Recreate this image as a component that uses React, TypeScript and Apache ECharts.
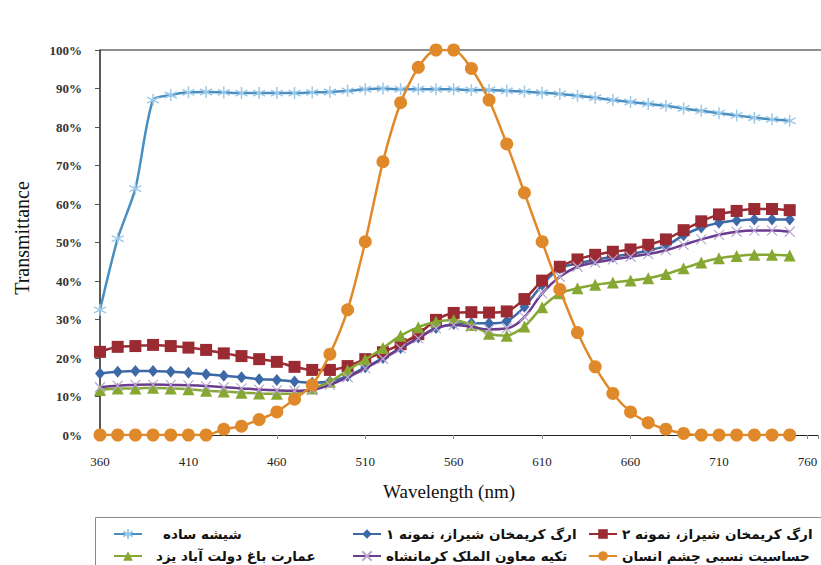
import React, { useEffect, useRef } from 'react';
import * as echarts from 'echarts';

const wavelengths = [360, 370, 380, 390, 400, 410, 420, 430, 440, 450, 460, 470, 480, 490, 500, 510, 520, 530, 540, 550, 560, 570, 580, 590, 600, 610, 620, 630, 640, 650, 660, 670, 680, 690, 700, 710, 720, 730, 740, 750];

const clearGlass = [32.5, 51, 64, 87, 88.3, 89, 89.1, 89, 88.8, 88.8, 88.8, 88.8, 89, 89.1, 89.4, 89.8, 90, 89.8, 89.8, 89.8, 89.8, 89.6, 89.6, 89.4, 89.2, 88.9, 88.6, 88.1, 87.6, 87, 86.5, 86, 85.5, 84.8, 84.2, 83.6, 83, 82.4, 82, 81.6];
const shirazSample1 = [16, 16.4, 16.6, 16.6, 16.4, 16.2, 15.8, 15.4, 15, 14.5, 14.3, 13.9, 13.6, 13.9, 15.3, 17.6, 20, 22.6, 25.3, 27.8, 28.8, 29, 29, 29.6, 33.3, 39, 43.3, 44.6, 45.5, 46.3, 47, 47.9, 49.1, 51.9, 53.9, 55.1, 55.7, 56, 56, 56];
const shirazSample2 = [21.6, 22.9, 23.1, 23.4, 23.1, 22.7, 22.1, 21.2, 20.5, 19.7, 19, 17.7, 16.9, 16.9, 17.9, 19.7, 21.5, 23.6, 26.2, 29.9, 31.7, 31.9, 31.8, 32.1, 35.3, 40.1, 43.7, 45.6, 46.8, 47.6, 48.2, 49.4, 50.8, 53.2, 55.5, 57.3, 58.2, 58.7, 58.7, 58.4];
const yazdGarden = [11.7, 12.1, 12.1, 12.3, 12.1, 11.9, 11.5, 11.3, 11, 10.8, 10.7, 10.8, 12.1, 13.8, 16.8, 19.6, 22.6, 25.8, 28, 29.4, 29.9, 28.6, 26.3, 25.8, 28.2, 33.2, 36.8, 38.1, 39, 39.6, 40.1, 40.7, 41.8, 43.3, 44.8, 45.9, 46.5, 46.8, 46.8, 46.6];
const kermanshahTekyeh = [12.4, 12.8, 13, 13.1, 13, 12.9, 12.7, 12.4, 12.1, 11.8, 11.6, 11.5, 11.7, 13, 15, 17.3, 19.8, 22.5, 25.1, 27.7, 28.6, 28.1, 27.4, 27.7, 30.7, 36.8, 41.1, 43.7, 44.8, 45.6, 46.3, 47, 48, 49.4, 50.8, 52, 52.8, 53.1, 53.1, 52.8];
const eyeSensitivity = [0, 0, 0, 0, 0, 0, 0, 1.5, 2.3, 4, 6, 9.3, 13, 21, 32.5, 50.2, 71, 86.3, 95.5, 100, 100, 95.2, 87, 75.6, 62.9, 50.2, 37.8, 26.6, 17.7, 10.8, 6, 3.2, 1.5, 0.4, 0, 0, 0, 0, 0, 0];

const seriesNames = [
  'شیشه ساده',
  'ارگ کریمخان شیراز، نمونه ۱',
  'ارگ کریمخان شیراز، نمونه ۲',
  'عمارت باغ دولت آباد یزد',
  'تکیه معاون الملک کرمانشاه',
  'حساسیت نسبی چشم انسان',
];

const yTicks = [0, 10, 20, 30, 40, 50, 60, 70, 80, 90, 100];

const ASTERISK = 'path://M0,-10L0,10M-8.66,-5L8.66,5M-8.66,5L8.66,-5';
const CROSS = 'path://M-10,-10L10,10M-10,10L10,-10';

const SERIF = 'Liberation Serif';
const SANS = 'DejaVu Sans';

export default function App() {
  const ref = useRef<HTMLDivElement>(null);

  useEffect(() => {
    if (!ref.current) return;
    const chart = echarts.init(ref.current, null, { renderer: 'svg' });

    const toData = (vals: number[]) => wavelengths.map((w, i) => [w, vals[i]]);

    const legendText = {
      fontFamily: SANS,
      fontWeight: 'bold' as const,
      fontSize: 13.5,
      color: '#111',
    };

    const mkLegend = (name: string, left: number, top: number, pad: number) => ({
      data: [name],
      left,
      top,
      padding: 0,
      itemWidth: 28,
      itemHeight: 12,
      selectedMode: false,
      textStyle: { ...legendText, padding: [0, 0, 0, pad] },
    });

    const option: any = {
      animation: false,
      backgroundColor: '#fff',
      grid: { left: 100, top: 50, right: 1, bottom: 130 },
      xAxis: {
        type: 'value',
        min: 360,
        max: 766,
        interval: 50,
        axisLine: { show: true, lineStyle: { color: '#222', width: 1.2 } },
        axisTick: { show: true, length: 4, lineStyle: { color: '#888' } },
        splitLine: { show: false },
        axisLabel: {
          margin: 20,
          fontFamily: SERIF,
          fontSize: 13,
          color: '#222',
          formatter: (v: number) => ((v - 360) % 50 === 0 ? String(v) : ''),
        },
      },
      yAxis: {
        type: 'value',
        min: yTicks[0],
        max: yTicks[yTicks.length - 1],
        interval: 10,
        axisLine: { show: true, lineStyle: { color: '#222', width: 1.5 } },
        axisTick: { show: true, length: 5, lineStyle: { color: '#555' } },
        splitLine: { show: false },
        axisLabel: {
          margin: 18,
          fontFamily: SERIF,
          fontWeight: 'bold',
          fontSize: 13,
          color: '#333',
          formatter: '{value}%',
        },
      },
      legend: [
        mkLegend(seriesNames[0], 113, 527, 16),
        mkLegend(seriesNames[1], 352, 527, 0),
        mkLegend(seriesNames[2], 588, 527, 0),
        mkLegend(seriesNames[3], 113, 549, 9),
        mkLegend(seriesNames[4], 352, 549, 0),
        mkLegend(seriesNames[5], 588, 549, 0),
      ],
      graphic: [
        {
          type: 'line',
          shape: { x1: 100, y1: 50, x2: 821, y2: 50 },
          style: { stroke: '#222', lineWidth: 1.2 },
          silent: true,
        },
        {
          type: 'rect',
          shape: { x: 95.5, y: 517.5, width: 740, height: 60 },
          style: { fill: 'none', stroke: '#8a8a8a', lineWidth: 1 },
          silent: true,
        },
        {
          type: 'text',
          x: 22,
          y: 238,
          rotation: Math.PI / 2,
          style: {
            text: 'Transmittance',
            fontFamily: SERIF,
            fontSize: 20,
            fill: '#111',
            align: 'center',
            verticalAlign: 'middle',
          },
        },
        {
          type: 'text',
          x: 449,
          y: 491,
          style: {
            text: 'Wavelength (nm)',
            fontFamily: SERIF,
            fontSize: 19,
            fill: '#111',
            align: 'center',
            verticalAlign: 'middle',
          },
        },
      ],
      series: [
        {
          name: seriesNames[0],
          type: 'line',
          data: toData(clearGlass),
          smooth: 0.25,
          symbol: ASTERISK,
          symbolSize: 12,
          lineStyle: { color: '#4a8fc2', width: 2.5 },
          itemStyle: { color: '#9cc9e8', borderColor: '#9cc9e8', borderWidth: 1.5 },
          z: 2,
        },
        {
          name: seriesNames[1],
          type: 'line',
          data: toData(shirazSample1),
          smooth: 0.25,
          symbol: 'diamond',
          symbolSize: [10, 12],
          lineStyle: { color: '#3d69a8', width: 2.5 },
          itemStyle: { color: '#3d69a8' },
          z: 3,
        },
        {
          name: seriesNames[2],
          type: 'line',
          data: toData(shirazSample2),
          smooth: 0.25,
          symbol: 'rect',
          symbolSize: 12,
          lineStyle: { color: '#9b2b33', width: 2.5 },
          itemStyle: { color: '#9b2b33' },
          z: 4,
        },
        {
          name: seriesNames[3],
          type: 'line',
          data: toData(yazdGarden),
          smooth: 0.25,
          symbol: 'triangle',
          symbolSize: 12,
          lineStyle: { color: '#86a832', width: 2.5 },
          itemStyle: { color: '#86a832' },
          z: 5,
        },
        {
          name: seriesNames[4],
          type: 'line',
          data: toData(kermanshahTekyeh),
          smooth: 0.4,
          symbol: CROSS,
          symbolSize: 10,
          lineStyle: { color: '#6b3d8f', width: 2.5 },
          itemStyle: { color: '#b9a9d2', borderColor: '#b9a9d2', borderWidth: 1.2 },
          z: 6,
        },
        {
          name: seriesNames[5],
          type: 'line',
          data: toData(eyeSensitivity),
          smooth: 0.25,
          symbol: 'circle',
          symbolSize: 13,
          lineStyle: { color: '#e0892a', width: 2.5 },
          itemStyle: { color: '#e0892a' },
          z: 7,
        },
      ],
    };

    chart.setOption(option);
    return () => chart.dispose();
  }, []);

  return (
    <div
      ref={ref}
      style={{ position: 'fixed', left: 0, top: 0, width: 821, height: 565, background: '#fff' }}
    />
  );
}
